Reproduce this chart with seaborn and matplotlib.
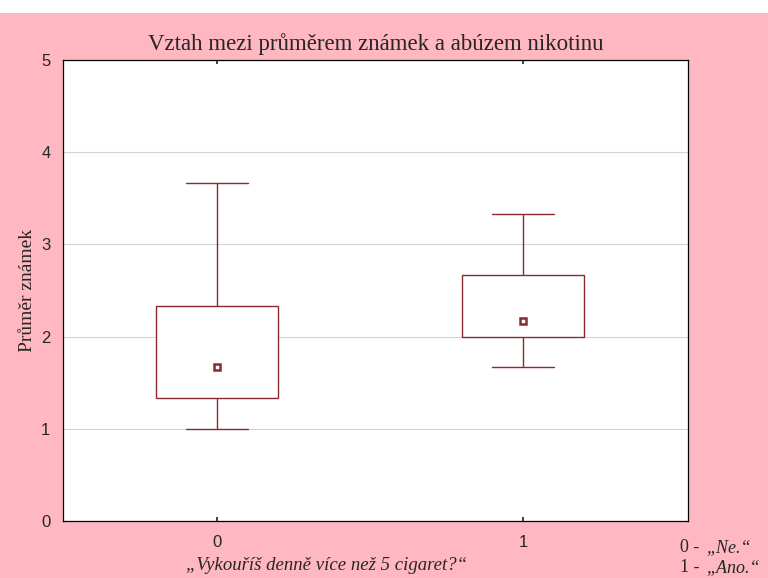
import pandas as pd
import matplotlib.pyplot as plt
import seaborn as sns
import numpy as np
from matplotlib.patches import Rectangle

# grade averages (min, Q1, median, Q3, max per group)
groups = ["0", "1"]
grades_no = [1.0, 1.333, 1.667, 2.333, 3.667]
grades_yes = [1.667, 2.0, 2.167, 2.667, 3.333]
yticks = [0, 1, 2, 3, 4, 5]

df = pd.DataFrame({
    "smoker": [groups[0]] * len(grades_no) + [groups[1]] * len(grades_yes),
    "grade": grades_no + grades_yes,
})

sns.set_theme(style="white")
plt.rcParams["font.family"] = ["Liberation Sans", "DejaVu Sans"]

pink = "#ffb7c1"
dark = "#8a2a30"

fig, ax = plt.subplots(figsize=(7.68, 5.78), dpi=100)
fig.patch.set_facecolor(pink)
fig.patches.append(Rectangle((0, 1 - 13 / 578), 1, 13 / 578, transform=fig.transFigure,
                             facecolor="white", edgecolor="none", zorder=-1))
fig.subplots_adjust(left=63 / 768, right=688 / 768, top=1 - 60 / 578, bottom=1 - 521 / 578)

sns.boxplot(data=df, x="smoker", y="grade", order=groups, whis=(0, 100), width=0.40,
            color="white", linecolor=dark, linewidth=1.0, fliersize=0,
            medianprops={"linewidth": 0}, capwidths=0.2, ax=ax)
sns.pointplot(data=df, x="smoker", y="grade", order=groups, estimator="median",
              errorbar=None, linestyle="none", marker="s", markersize=5,
              markerfacecolor="white", markeredgecolor=dark, markeredgewidth=1.8,
              color=dark, ax=ax)

ax.set_ylim(0, 5)
ax.set_xlim(-0.503, 1.539)
ax.set_yticks(yticks)
ax.set_yticklabels([str(t) for t in yticks], fontsize=12)
ax.set_xticks([0, 1])
ax.set_xticklabels(groups, fontsize=12)
ax.yaxis.grid(True, color="#d4d4d4", linewidth=0.8)
ax.set_axisbelow(True)
ax.tick_params(axis="y", length=3, color="#bbbbbb", pad=6)
ax.tick_params(axis="x", length=3, direction="in", top=True, bottom=True, pad=10)
for s in ax.spines.values():
    s.set_color("black")
    s.set_linewidth(0.9)

ax.set_xlabel("")
ax.set_ylabel("Průměr známek", family="Liberation Serif", fontsize=14, labelpad=4)
ax.set_title("Vztah mezi průměrem známek a abúzem nikotinu", family="Liberation Serif",
             fontsize=16.5, pad=7)

fig.text(327 / 768, 1 - 566 / 578, "„Vykouříš denně více než 5 cigaret?“", family="Liberation Serif",
         style="italic", fontsize=13.5, ha="center", va="center")
fig.text(680 / 768, 1 - 548 / 578, "0 -", family="Liberation Serif", fontsize=13, ha="left", va="center")
fig.text(706 / 768, 1 - 548 / 578, "„Ne.“", family="Liberation Serif", style="italic",
         fontsize=13, ha="left", va="center")
fig.text(680 / 768, 1 - 568 / 578, "1 -", family="Liberation Serif", fontsize=13, ha="left", va="center")
fig.text(706 / 768, 1 - 568 / 578, "„Ano.“", family="Liberation Serif", style="italic",
         fontsize=13, ha="left", va="center")

fig.savefig("out.png", dpi=100, facecolor=fig.get_facecolor())
